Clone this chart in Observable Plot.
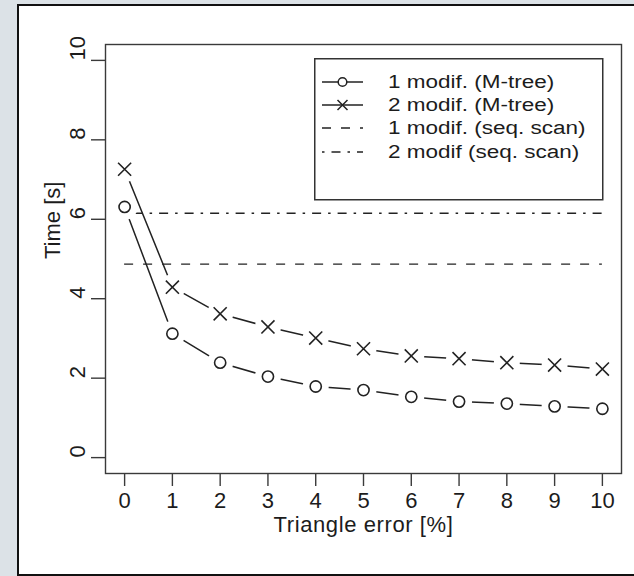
<!DOCTYPE html>
<html><head><meta charset="utf-8">
<script src="https://cdn.jsdelivr.net/npm/d3@7"></script>
<script src="https://cdn.jsdelivr.net/npm/@observablehq/plot@0.6"></script>
<style>
html,body{margin:0;padding:0;}
body{width:634px;height:576px;background:#dce2e7;position:relative;overflow:hidden;font-family:"Liberation Sans",Arial,sans-serif;}
#panel{position:absolute;left:17px;top:4px;width:660px;height:572px;background:#fff;border:2px solid #111;box-sizing:border-box;}
#chart{position:absolute;left:0;top:0;}
#legend{position:absolute;left:314px;top:58px;}
</style>
</head><body>
<div id="panel"></div>
<div id="chart"></div>
<svg id="legend" width="290" height="143"></svg>
<script>
// ---- data ----
const errors = [0, 1, 2, 3, 4, 5, 6, 7, 8, 9, 10];
const oneModMTree = [6.31, 3.12, 2.39, 2.04, 1.79, 1.70, 1.53, 1.41, 1.36, 1.29, 1.23];
const twoModMTree = [7.26, 4.29, 3.62, 3.29, 3.01, 2.74, 2.56, 2.49, 2.39, 2.33, 2.23];
const oneModSeqScan = 4.87;
const twoModSeqScan = 6.15;
const xTicks = [0, 1, 2, 3, 4, 5, 6, 7, 8, 9, 10];
const yTicks = [0, 2, 4, 6, 8, 10];
const xLabel = "Triangle error [%]";
const yLabel = "Time [s]";
const seriesNames = ["1 modif. (M-tree)", "2 modif. (M-tree)", "1 modif. (seq. scan)", "2 modif (seq. scan)"];

const ink = "#222";
const dashed = "9,10";
const dotdash = "2.5,7,9,7";

const s1 = errors.map((e, i) => ({e, t: oneModMTree[i]}));
const s2 = errors.map((e, i) => ({e, t: twoModMTree[i]}));
const xMin = d3.min(errors), xMax = d3.max(errors);

const plot = Plot.plot({
  width: 634, height: 576,
  marginLeft: 105, marginRight: 13, marginTop: 44, marginBottom: 103,
  x: {domain: [-0.4, 10.4]},
  y: {domain: [-0.4, 10.4]},
  style: {background: "transparent", fontFamily: "'Liberation Sans', Arial, sans-serif", fontSize: "22px", color: "#1c1c1c"},
  marks: [
    Plot.ruleY([oneModSeqScan], {x1: xMin, x2: xMax, stroke: ink, strokeWidth: 1.4, strokeDasharray: dashed}),
    Plot.ruleY([twoModSeqScan], {x1: xMin, x2: xMax, stroke: ink, strokeWidth: 1.4, strokeDasharray: dotdash}),
    Plot.line(s1, {x: "e", y: "t", stroke: ink, strokeWidth: 1.5}),
    Plot.dot(s1, {x: "e", y: "t", r: 13, fill: "white", stroke: null}),
    Plot.dot(s1, {x: "e", y: "t", r: 5.6, fill: "white", stroke: ink, strokeWidth: 1.6}),
    Plot.line(s2, {x: "e", y: "t", stroke: ink, strokeWidth: 1.5}),
    Plot.dot(s2, {x: "e", y: "t", r: 13, fill: "white", stroke: null}),
    Plot.dot(s2, {x: "e", y: "t", r: 6, symbol: "times", stroke: ink, strokeWidth: 1.6}),
    Plot.frame({stroke: "#3a3a3a", strokeWidth: 1.4}),
    Plot.axisX({ticks: xTicks, tickSize: 13, tickPadding: 6, label: null, fontSize: 22, stroke: "#3a3a3a", strokeWidth: 1.4}),
    Plot.axisY({ticks: yTicks, tickSize: 14, tickFormat: () => "", label: null, stroke: "#3a3a3a", strokeWidth: 1.4}),
    Plot.text(yTicks, {y: d => d, text: d => String(d), frameAnchor: "left", rotate: -90, dx: -28, fontSize: 22}),
    Plot.text([yLabel], {text: d => d, frameAnchor: "left", rotate: -90, dx: -53, fontSize: 22}),
    Plot.text([xLabel], {text: d => d, frameAnchor: "bottom", dy: 58, fontSize: 22})
  ]
});
document.getElementById("chart").appendChild(plot);
d3.select(plot).selectAll("text").filter(function(){ return this.textContent === xLabel; }).style("letter-spacing", "0.6px");

// ---- legend ----
const lg = d3.select("#legend");
lg.append("rect").attr("x", 0.75).attr("y", 0.75).attr("width", 288).attr("height", 141)
  .attr("fill", "white").attr("stroke", "#333").attr("stroke-width", 1.5);
const rowY = [24, 47, 70, 94];
const styles = [
  {dash: null, sym: "circle"},
  {dash: null, sym: "times"},
  {dash: dashed, sym: null},
  {dash: dotdash, sym: null}
];
seriesNames.forEach((name, i) => {
  const y = rowY[i];
  const st = styles[i];
  lg.append("line").attr("x1", 8).attr("x2", 49).attr("y1", y).attr("y2", y)
    .attr("stroke", ink).attr("stroke-width", 1.4).attr("stroke-dasharray", st.dash);
  if (st.sym === "circle") {
    lg.append("circle").attr("cx", 28.5).attr("cy", y).attr("r", 4.3).attr("fill", "white").attr("stroke", ink).attr("stroke-width", 1.5);
  } else if (st.sym === "times") {
    lg.append("path").attr("d", `M${23.5},${y-5}L${33.5},${y+5}M${23.5},${y+5}L${33.5},${y-5}`).attr("stroke", ink).attr("stroke-width", 1.5);
  }
  lg.append("text").attr("transform", `translate(74,${y}) scale(1.25,1)`).attr("dy", "0.35em")
    .attr("font-family", "'Liberation Sans', Arial, sans-serif").attr("font-size", 18).attr("fill", "#1c1c1c").text(name);
});
</script>
</body></html>
